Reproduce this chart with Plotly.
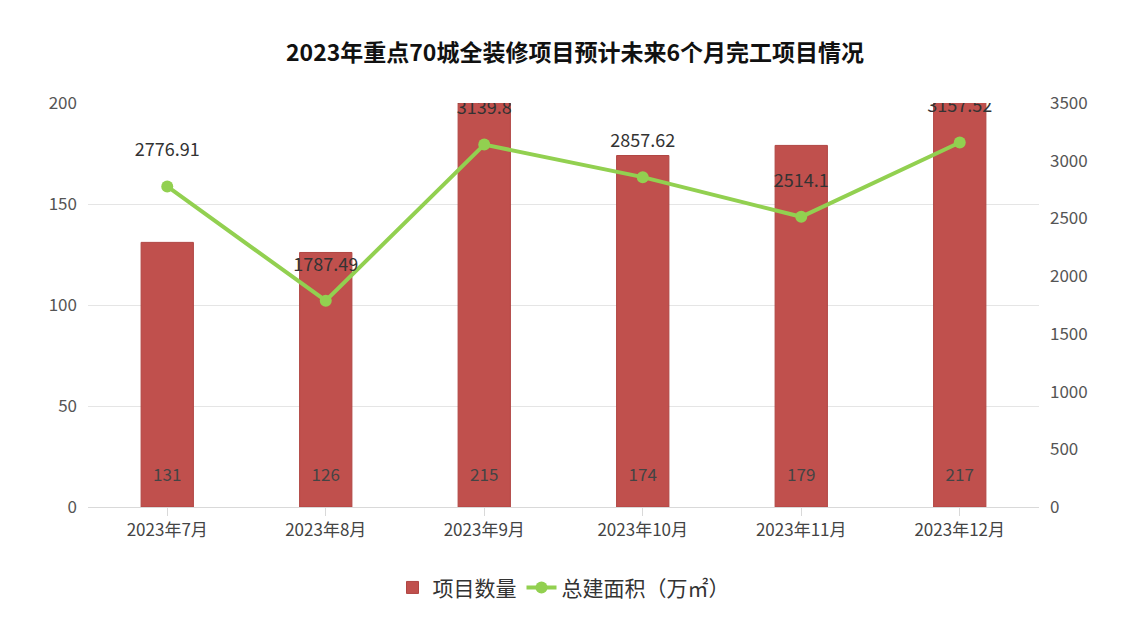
import plotly.graph_objects as go

months = ["2023年7月","2023年8月","2023年9月","2023年10月","2023年11月","2023年12月"]
counts = [131,126,215,174,179,217]
areas = [2776.91,1787.49,3139.8,2857.62,2514.1,3157.52]
area_labels = ["2776.91","1787.49","3139.8","2857.62","2514.1","3157.52"]

font = "Noto Sans CJK SC"
fig = go.Figure()
fig.add_bar(x=months, y=counts, name="项目数量", marker_color="#C0504D",
            marker_line=dict(color="#B04542", width=1), width=0.33, hoverinfo="skip")
fig.add_scatter(x=months, y=[15]*6, mode="text", text=[str(c) for c in counts],
                textfont=dict(size=17, color="#444"), showlegend=False)
fig.add_scatter(x=months, y=areas, yaxis="y2", name="总建面积（万㎡）", mode="lines+markers",
                line=dict(color="#92D050", width=4), marker=dict(size=12, color="#92D050"))
fig.add_scatter(x=months, y=[a + 300 for a in areas], yaxis="y2", mode="text", text=area_labels,
                textfont=dict(size=18, color="#333"), showlegend=False)
fig.update_layout(
    width=1134, height=636, paper_bgcolor="white", plot_bgcolor="white",
    font=dict(family=font, color="#555", size=17),
    title=dict(text="<b>2023年重点70城全装修项目预计未来6个月完工项目情况</b>", x=0.5, y=0.93,
               yanchor="middle", font=dict(size=23, color="#111")),
    margin=dict(l=80, r=103, t=95, b=137),
    xaxis=dict(showline=True, linecolor="#d9d9d9", ticks="outside", tickcolor="#d9d9d9", ticklen=8,
               tickfont=dict(size=17, color="#444")),
    yaxis=dict(range=[0,200], dtick=50, gridcolor="#e5e5e5", zeroline=False, ticklabelstandoff=10,
               tickfont=dict(size=17, color="#555")),
    yaxis2=dict(range=[0,3500], dtick=500, overlaying="y", side="right", showgrid=False,
                ticklabelstandoff=10, tickfont=dict(size=17, color="#555")),
    legend=dict(orientation="h", x=0.5, xanchor="center", y=-0.2, yanchor="middle",
                font=dict(size=21, color="#333")),
    bargap=0.67, showlegend=True,
)
fig.write_html("out.html")
